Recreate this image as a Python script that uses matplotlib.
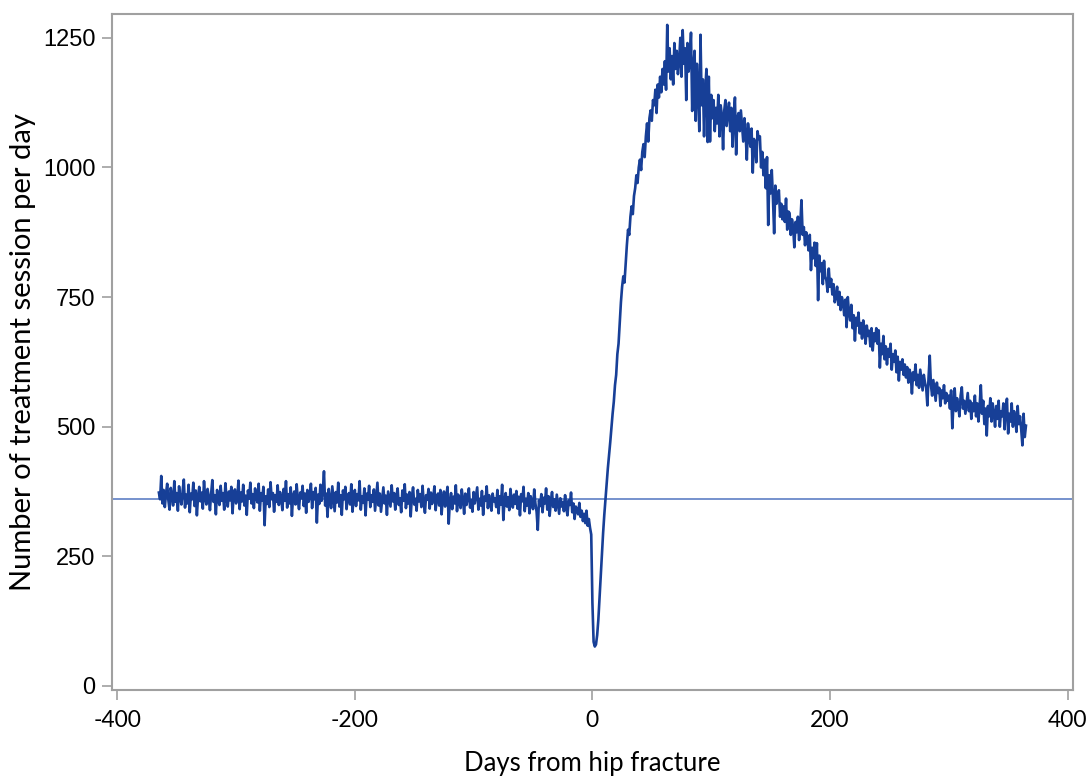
import numpy as np
import matplotlib
matplotlib.use('Agg')
import matplotlib.pyplot as plt

# Sessions per day, one value per day
# Before fracture: day -365 .. -1
pre_values = [
    373, 360, 405, 352, 378, 345, 371, 390, 358, 340, 382, 366, 348, 395, 355, 372, 338, 385, 362, 350,
    376, 398, 344, 369, 352, 388, 335, 371, 360, 392, 347, 377, 329, 366, 384, 356, 373, 342, 395, 361,
    350, 380, 364, 339, 371, 397, 355, 368, 331, 378, 360, 349, 386, 357, 372, 340, 391, 362, 346, 375,
    358, 384, 333, 369, 379, 352, 364, 396, 341, 373, 356, 388, 348, 367, 330, 377, 361, 392, 352, 370,
    343, 381, 363, 354, 390, 338, 372, 358, 384, 310, 366, 351, 379, 345, 393, 360, 372, 336, 368, 355,
    387, 349, 374, 362, 339, 380, 357, 395, 344, 370, 352, 383, 328, 367, 375, 350, 389, 358, 341, 373,
    362, 386, 347, 371, 334, 378, 355, 366, 390, 343, 374, 360, 382, 315, 369, 351, 388, 357, 376, 414,
    348, 371, 326, 380, 359, 343, 385, 362, 337, 374, 354, 392, 346, 368, 330, 377, 360, 384, 341, 365,
    372, 350, 389, 336, 363, 378, 347, 370, 358, 395, 340, 366, 353, 381, 329, 371, 359, 386, 345, 368,
    355, 379, 338, 364, 392, 348, 371, 336, 360, 383, 352, 367, 330, 375, 361, 346, 387, 356, 372, 340,
    366, 381, 349, 362, 335, 377, 357, 389, 343, 369, 352, 374, 327, 365, 383, 350, 361, 338, 378, 356,
    370, 345, 386, 353, 334, 368, 359, 380, 342, 373, 351, 364, 385, 339, 362, 371, 348, 378, 331, 360,
    375, 346, 367, 384, 313, 356, 372, 341, 365, 352, 387, 337, 369, 355, 343, 379, 360, 332, 371, 349,
    363, 381, 344, 358, 336, 374, 352, 367, 383, 340, 361, 348, 376, 330, 365, 357, 385, 343, 368, 352,
    338, 371, 356, 362, 345, 378, 333, 366, 350, 388, 320, 359, 372, 346, 364, 339, 380, 355, 344, 369,
    351, 376, 342, 365, 329, 370, 356, 384, 337, 361, 348, 372, 333, 366, 355, 341, 379, 352, 336, 301,
    358, 347, 370, 335, 363, 352, 381, 340, 366, 328, 357, 374, 345, 360, 338, 369, 350, 332, 362, 346,
    355, 337, 368, 343, 329, 358, 349, 373, 335, 352, 322, 346, 340, 331, 353, 326, 338, 318, 332, 314,
    338, 309, 322, 305, 292,
]

# Dip and recovery: day 0 .. 100
early_values = [
    160, 85, 76, 80, 98, 128, 170, 215, 255, 295,
    330, 360, 392, 420, 445, 470, 498, 525, 548, 580,
    600, 640, 660, 700, 740, 770, 790, 778, 815, 850,
    880, 870, 905, 925, 910, 945, 960, 985, 970, 1000,
    1015, 995, 1030, 1045, 1020, 1060, 1085, 1050, 1095, 1110,
    1090, 1130, 1120, 1150, 1105, 1160, 1135, 1175, 1145, 1190,
    1160, 1205, 1150, 1275, 1185, 1230, 1170, 1215, 1160, 1240,
    1190, 1225, 1180, 1205, 1250, 1175, 1265, 1200, 1230, 1130,
    1240, 1185, 1210, 1260, 1109, 1195, 1225, 1090, 1200, 1150,
    1070, 1256, 1120, 1170, 1060, 1150, 1190, 1049, 1175, 1050,
    1140,
]

# Slow decline: day 101 .. 365
late_values = [
    1095, 1130, 1070, 1115, 1085, 1140, 1060, 1120, 1100, 1035, 1110, 1130, 1080, 1105, 1125, 1070, 1115, 1040, 1100, 1135,
    1025, 1095, 1105, 1070, 1110, 1080, 1050, 1095, 1065, 1015, 1085, 1060, 1040, 1075, 990, 1055, 1045, 1010, 1070, 1055,
    1060, 1000, 1030, 985, 1015, 960, 1020, 889, 985, 950, 995, 940, 873, 965, 930, 945, 956, 905, 930, 900,
    925, 895, 940, 880, 915, 912, 870, 900, 885, 846, 895, 875, 905, 860, 890, 937, 870, 885, 850, 875,
    860, 840, 870, 802, 845, 825, 855, 810, 854, 744, 830, 800, 815, 775, 820, 790, 782, 760, 805, 770,
    785, 755, 775, 740, 750, 770, 735, 760, 725, 750, 740, 715, 745, 692, 750, 720, 705, 735, 690, 715,
    666, 710, 695, 720, 680, 700, 670, 705, 690, 660, 695, 675, 685, 655, 690, 647, 680, 665, 690, 660,
    686, 614, 660, 640, 675, 630, 655, 620, 650, 635, 660, 610, 640, 625, 647, 605, 635, 589, 625, 610,
    630, 600, 620, 595, 615, 585, 610, 600, 564, 605, 590, 620, 580, 600, 575, 610, 590, 570, 600, 585,
    575, 541, 595, 637, 580, 560, 590, 570, 550, 585, 565, 575, 540, 570, 555, 580, 545, 565, 550, 560,
    535, 570, 497, 545, 574, 530, 555, 540, 520, 560, 576, 535, 550, 525, 545, 565, 530, 550, 515, 545,
    530, 560, 520, 545, 510, 540, 580, 525, 550, 505, 535, 483, 540, 520, 555, 510, 545, 525, 500, 540,
    515, 550, 500, 530, 520, 545, 495, 535, 554, 487, 525, 510, 545, 500, 530, 515, 490, 540, 505, 520,
    495, 464, 525, 480, 502,
]

baseline = 360  # pre-fracture level (reference line)

x_ticks = [-400, -200, 0, 200, 400]
y_ticks = [0, 250, 500, 750, 1000, 1250]

values = np.array(pre_values + early_values + late_values)
days = np.arange(-len(pre_values), len(early_values) + len(late_values))

plt.rcParams['font.family'] = ['Liberation Sans', 'DejaVu Sans']
plt.rcParams['axes.unicode_minus'] = False
label_font = ['Lato', 'DejaVu Sans']

fig = plt.figure(figsize=(10.87, 7.78), dpi=100)
ax = fig.add_axes([0.103, 0.113, 0.884, 0.869])

ax.axhline(baseline, color='#4f74c0', lw=1.1, zorder=1)
ax.plot(days, values, color='#173f97', lw=1.9, zorder=2)

ax.set_xlim(-404.5, 404.5)
ax.set_ylim(-8, 1296)
ax.set_xticks(x_ticks)
ax.set_yticks(y_ticks)
ax.tick_params(axis='both', direction='out', length=7, width=1.2,
               color='#a0a0a0', pad=5)
ax.tick_params(axis='y', labelsize=17)
ax.tick_params(axis='x', labelsize=16.5, pad=7)
for lbl in ax.get_xticklabels():
    lbl.set_family(label_font)

for s in ax.spines.values():
    s.set_color('#a0a0a0')
    s.set_linewidth(1.5)

ax.set_xlabel('Days from hip fracture', family=label_font, fontsize=18.5, va='center')
ax.set_ylabel('Number of treatment session per day', family=label_font, fontsize=21, va='center')
ax.xaxis.set_label_coords(0.5, -0.108)
ax.yaxis.set_label_coords(-0.093, 0.5)

fig.savefig('out.png', dpi=100)
